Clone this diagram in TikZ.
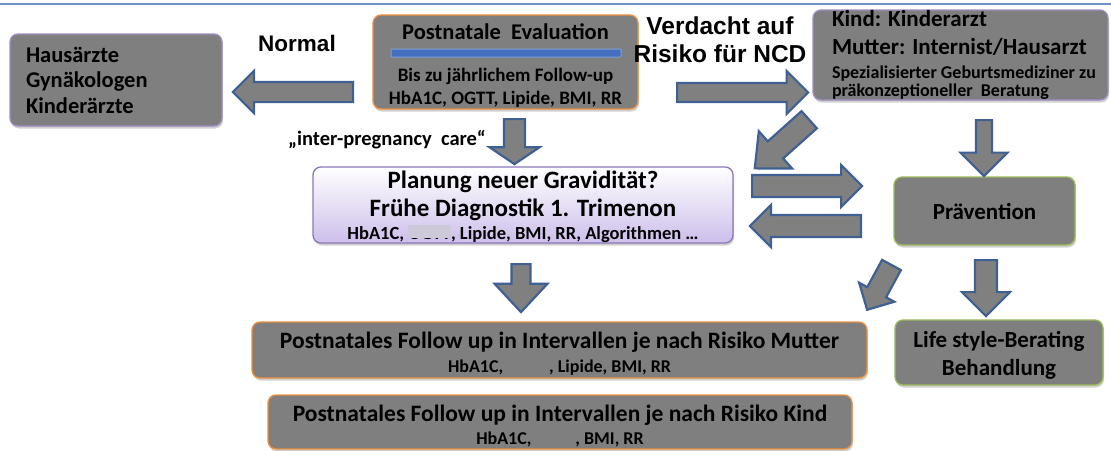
\documentclass[tikz,border=0pt]{standalone}
\usepackage{fontspec}
\setmainfont{Carlito}
\newfontfamily\arialfont{Liberation Sans}
\usetikzlibrary{shapes.arrows,shadows}

\definecolor{boxgray}{RGB}{127,127,127}
\definecolor{orangeb}{RGB}{237,145,62}
\definecolor{purpleb}{RGB}{160,140,195}
\definecolor{greenb}{RGB}{155,187,89}
\definecolor{arrowblue}{RGB}{63,96,146}
\definecolor{arrowfill}{RGB}{128,128,128}
\definecolor{planborder}{RGB}{140,120,185}
\definecolor{lavender}{RGB}{205,190,235}
\definecolor{coverc}{RGB}{206,201,216}
\definecolor{topline}{RGB}{110,145,200}
\definecolor{barblue}{RGB}{68,110,190}
\definecolor{barborder}{RGB}{125,160,215}

\newcommand\fs[2]{\fontsize{#1}{#2}\selectfont}
\newcommand\ogttcover[1]{\setbox0\hbox{#1}\rlap{#1}\textcolor{coverc}{\rule[1.5pt]{\wd0}{\dimexpr\ht0+1pt\relax}}}

\begin{document}
\begin{tikzpicture}[x=1pt,y=-1pt,font=\bfseries,
  box/.style={draw, rounded corners=8pt, fill=boxgray, line width=1.3pt, inner sep=0pt, align=center,
    drop shadow={shadow xshift=1pt, shadow yshift=-2.5pt, opacity=0.3, fill=black!60}},
  obox/.style={box, draw=orangeb},
  pbox/.style={box, draw=purpleb},
  gbox/.style={box, draw=greenb},
  barrow/.style={single arrow, draw=arrowblue, fill=arrowfill, line width=2.2pt, inner xsep=0pt,
    anchor=tail, single arrow tip angle=90},
  lbl/.style={font=\arialfont\bfseries\fs{24.5}{28}, align=center}
]
\useasboundingbox (0,0) rectangle (1111,450);
\fill[white] (0,0) rectangle (1111,450);
\draw[topline, line width=1.5pt] (0,4) -- (1111,4);

% boxes
\node[pbox, minimum width=212pt, minimum height=92pt, text width=180pt, align=flush left,
  font=\bfseries\fs{22.5}{25.5}] (haus) at (116,80)
  {Hausärzte\\Gynäkologen\\Kinderärzte};

\node[obox, minimum width=265pt, minimum height=94pt, font=\bfseries\fs{19}{21}] (post) at (505.5,62)
  {\rule{0pt}{23pt}\fs{22.5}{21}Postnatale\ \ Evaluation\\\mbox{}\\\fs{19}{21}Bis zu jährlichem Follow-up\\[2pt]HbA1C, OGTT, Lipide, BMI, RR};
\node[draw=barborder, fill=barblue, line width=1pt, minimum width=230pt, minimum height=8pt,
  inner sep=0pt, rounded corners=1pt] (bar) at (506,53) {};

\node[pbox, minimum width=295pt, minimum height=90pt, text width=257pt, align=flush left,
  font=\bfseries\fs{18}{18}] (kindarzt) at (960.5,55)
  {\fs{23}{18}Kind: Kinderarzt\\[10pt]\mbox{Mutter: Internist/Hausarzt}\\[6pt]\fs{18}{18}\mbox{Spezialisierter Geburtsmediziner zu}\\\mbox{präkonzeptioneller\ \ Beratung}};

\node[draw=planborder, rounded corners=8pt, top color=white, bottom color=lavender, line width=1.3pt,
  minimum width=420pt, minimum height=74pt, inner sep=0pt, align=center, font=\bfseries\fs{25}{23},
  drop shadow={shadow xshift=1pt, shadow yshift=-2.5pt, opacity=0.3, fill=black!60}] (plan) at (523,205)
  {\rule{0pt}{22pt}Planung neuer Gravidität?\\[5pt]Frühe Diagnostik 1. Trimenon\\\fs{18.5}{23}HbA1C, \ogttcover{OGTT}, Lipide, BMI, RR, Algorithmen …};

\node[gbox, minimum width=181pt, minimum height=68pt, font=\bfseries\fs{23}{28}] (praev) at (984.5,211) {Prävention};
\node[gbox, minimum width=208pt, minimum height=65pt, font=\bfseries\fs{23}{28}] (life) at (999,352.5)
  {\rule{0pt}{22pt}Life style-Berating\\Behandlung};

\node[obox, minimum width=615pt, minimum height=56pt, font=\bfseries\fs{23.5}{23.5}] (mutter) at (559.5,350)
  {\rule{0pt}{24pt}Postnatales Follow up in Intervallen je nach Risiko Mutter\\\fs{18}{23.5}HbA1C,\hspace{46pt}, Lipide, BMI, RR};
\node[obox, minimum width=584pt, minimum height=54pt, font=\bfseries\fs{23.5}{23.5}] (kindfu) at (560,422)
  {\rule{0pt}{24pt}Postnatales Follow up in Intervallen je nach Risiko Kind\\\fs{18}{23.5}HbA1C,\hspace{44pt}, BMI, RR};

% labels
\node[font=\arialfont\bfseries\fs{22.5}{27}] (normal) at (297,43) {Normal};
\node[lbl] (verdacht) at (720,40) {Verdacht auf\\Risiko für NCD};
\node[font=\bfseries\fs{20.5}{24}] (ipc) at (387,140) {„inter-pregnancy\ \ care“};

% block arrows
\node[barrow, rotate=180, minimum height=120pt, inner ysep=9pt, single arrow head extend=11pt] (a1) at (354,92) {};
\node[barrow, rotate=0, minimum height=131pt, inner ysep=8.4pt, single arrow head extend=12pt] (a2) at (676,92.5) {};
\node[barrow, rotate=-90, minimum height=45pt, inner ysep=9.4pt, single arrow head extend=14.5pt, single arrow tip angle=112] (a3) at (514.5,118) {};
\node[barrow, rotate=-138.2, minimum height=73pt, inner ysep=10.4pt, single arrow head extend=13.5pt, single arrow tip angle=84] (a4) at (810,119) {};
\node[barrow, rotate=0, minimum height=110pt, inner ysep=9.9pt, single arrow head extend=10pt] (a5) at (751,186) {};
\node[barrow, rotate=180, minimum height=111pt, inner ysep=9.9pt, single arrow head extend=10pt] (a6) at (862,226) {};
\node[barrow, rotate=-90, minimum height=56pt, inner ysep=6.9pt, single arrow head extend=15.5pt] (a7) at (984,119) {};
\node[barrow, rotate=-90, minimum height=48pt, inner ysep=8.4pt, single arrow head extend=17pt, single arrow tip angle=86] (a8) at (521,263) {};
\node[barrow, rotate=-90, minimum height=56pt, inner ysep=9.9pt, single arrow head extend=13pt] (a9) at (986,259) {};
\node[barrow, rotate=-118.5, minimum height=51pt, inner ysep=9.6pt, single arrow head extend=9.3pt] (a10) at (892,264) {};
\end{tikzpicture}
\end{document}
